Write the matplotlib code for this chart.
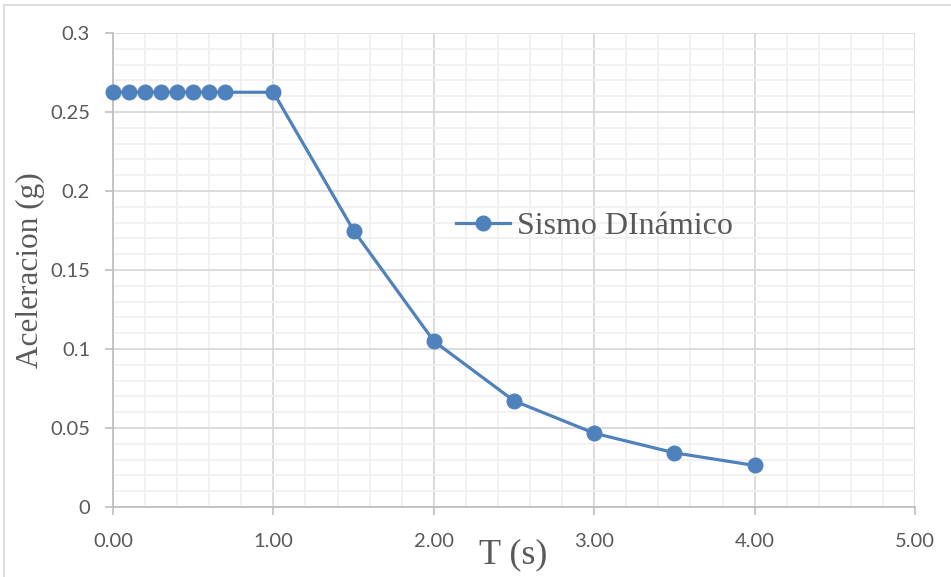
import matplotlib
matplotlib.use("Agg")
import matplotlib.pyplot as plt
from matplotlib.ticker import MultipleLocator, FormatStrFormatter
from matplotlib.lines import Line2D

periods = [0.0, 0.1, 0.2, 0.3, 0.4, 0.5, 0.6, 0.7, 1.0, 1.5, 2.0, 2.5, 3.0, 3.5, 4.0]
accel = [0.2625, 0.2625, 0.2625, 0.2625, 0.2625, 0.2625, 0.2625, 0.2625, 0.2625,
         0.175, 0.105, 0.0672, 0.0467, 0.0343, 0.0263]
series_name = "Sismo DInámico"
x_label = "T (s)"
y_label = "Aceleracion (g)"
y_ticks = [0, 0.05, 0.1, 0.15, 0.2, 0.25, 0.3]
y_tick_labels = ["0", "0.05", "0.1", "0.15", "0.2", "0.25", "0.3"]

tick_family = ["Lato", "DejaVu Sans"]
serif = ["Liberation Serif", "DejaVu Serif"]

fig = plt.figure(figsize=(9.51, 5.77), dpi=100)
fig.patch.set_facecolor("white")
ax = fig.add_axes([113 / 951, 1 - 507 / 577, 802 / 951, 474 / 577])

blue = "#4F81BD"
ax.plot(periods, accel, color=blue, lw=2.3, marker="o", markersize=10.5,
        label=series_name, zorder=3, clip_on=False)

ax.set_xlim(0, 5)
ax.set_ylim(0, 0.3)
ax.xaxis.set_major_locator(MultipleLocator(1.0))
ax.xaxis.set_minor_locator(MultipleLocator(0.2))
ax.yaxis.set_minor_locator(MultipleLocator(0.01))
ax.xaxis.set_major_formatter(FormatStrFormatter("%.2f"))
ax.set_yticks(y_ticks)
ax.set_yticklabels(y_tick_labels)

ax.grid(which="major", color="#D9D9D9", lw=1.3, zorder=1)
ax.grid(which="minor", color="#F0F0F0", lw=1.3, zorder=0)
ax.set_axisbelow(True)

for s in ["top", "right"]:
    ax.spines[s].set_visible(False)
for s in ["left", "bottom"]:
    ax.spines[s].set_color("#BFBFBF")
    ax.spines[s].set_linewidth(1.3)

ax.tick_params(which="major", length=5.5, color="#BFBFBF", width=1.2,
               labelcolor="#595959", labelsize=14.5)
ax.tick_params(axis="x", pad=13)
ax.tick_params(axis="y", pad=11)
ax.tick_params(which="minor", length=0)
for lab in ax.get_xticklabels() + ax.get_yticklabels():
    lab.set_family(tick_family)

ax.set_xlabel(x_label, family=serif, fontsize=26, color="#595959")
ax.xaxis.set_label_coords(513 / 951, 1 - 555 / 577, transform=fig.transFigure)
ax.set_ylabel(y_label, family=serif, fontsize=22.5, color="#595959")
ax.yaxis.set_label_coords(30 / 951, 1 - 270 / 577, transform=fig.transFigure)
ax.yaxis.label.set_va("center")
ax.xaxis.label.set_va("center")

leg = ax.legend(loc="center left", bbox_to_anchor=((456 - 113) / 802, (507 - 226) / 474),
                frameon=False, prop={"family": serif, "size": 23},
                handlelength=1.7, handletextpad=0.2, borderpad=0, borderaxespad=0)
for t in leg.get_texts():
    t.set_color("#595959")

# chart-area border (top and left edges visible)
fig.add_artist(Line2D([4 / 951, 4 / 951], [0, 1 - 5 / 577], transform=fig.transFigure,
                      color="#D9D9D9", lw=1.2))
fig.add_artist(Line2D([4 / 951, 1], [1 - 5 / 577, 1 - 5 / 577], transform=fig.transFigure,
                      color="#D9D9D9", lw=1.2))

fig.savefig("out.png", dpi=100, facecolor="white")
